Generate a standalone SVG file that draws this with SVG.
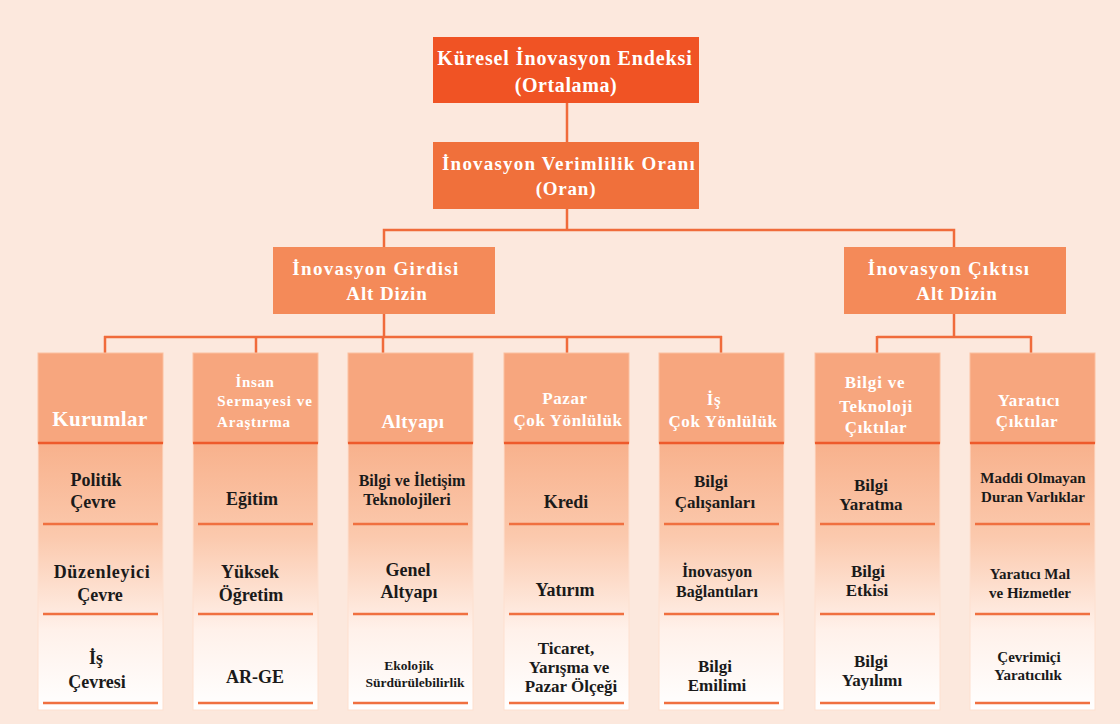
<svg xmlns="http://www.w3.org/2000/svg" width="1120" height="724" viewBox="0 0 1120 724">
  <style>
    .bg { fill: #fce8dd; }
    .t { font-family: 'Liberation Serif', Tinos, 'Times New Roman', 'DejaVu Serif', serif; font-weight: bold; text-anchor: middle; }
    .w { fill: #ffffff; }
    .k { fill: #1a1a1a; }
    .conn { stroke: #f06b3b; stroke-width: 2.5; fill: none; }
    .hdr { fill: #f7a67e; stroke: #fbbf9f; stroke-width: 1; }
    .body { fill: url(#colGrad); stroke: #fde0d0; stroke-width: 1; }
    .hline { stroke: #ee5a2b; stroke-width: 2.5; }
    .sep { stroke: #f07040; stroke-width: 2.5; }
  </style>
  <defs>
    <linearGradient id="colGrad" x1="0" y1="0" x2="0" y2="1">
      <stop offset="0" stop-color="#f8b18c"/>
      <stop offset="0.35" stop-color="#fbc9ad"/>
      <stop offset="0.7" stop-color="#fff1ea"/>
      <stop offset="1" stop-color="#ffffff"/>
    </linearGradient>
  </defs>

  <rect class="bg" x="0" y="0" width="1120" height="724"/>

  <!-- connectors -->
  <g id="connectors">
    <line class="conn" x1="567" y1="103" x2="567" y2="142"/>
    <line class="conn" x1="567" y1="209" x2="567" y2="230"/>
    <polyline class="conn" points="384,247 384,230 954,230 954,247"/>
    <line class="conn" x1="384" y1="314" x2="384" y2="337"/>
    <line class="conn" x1="954" y1="314" x2="954" y2="337"/>
    <line class="conn" x1="104" y1="337" x2="722" y2="337"/>
    <line class="conn" x1="877" y1="337" x2="1031" y2="337"/>
    <line class="conn" x1="105" y1="336" x2="105" y2="353"/>
    <line class="conn" x1="256" y1="336" x2="256" y2="353"/>
    <line class="conn" x1="383" y1="336" x2="383" y2="353"/>
    <line class="conn" x1="567" y1="336" x2="567" y2="353"/>
    <line class="conn" x1="721" y1="336" x2="721" y2="353"/>
    <line class="conn" x1="877" y1="336" x2="877" y2="353"/>
    <line class="conn" x1="1031" y1="336" x2="1031" y2="353"/>
  </g>

  <!-- top levels -->
  <g id="gii">
    <rect x="433" y="37" width="266" height="66" fill="#f05324"/>
    <text class="t w" x="565" y="65" font-size="20" letter-spacing="0.9">Küresel İnovasyon Endeksi</text>
    <text class="t w" x="566" y="92" font-size="20" letter-spacing="0.6">(Ortalama)</text>
  </g>
  <g id="verimlilik">
    <rect x="433" y="142" width="266" height="67" fill="#f0703b"/>
    <text class="t w" x="569" y="170" font-size="19" letter-spacing="1.2">İnovasyon Verimlilik Oranı</text>
    <text class="t w" x="566" y="195" font-size="19" letter-spacing="0.8">(Oran)</text>
  </g>
  <g id="girdi">
    <rect x="273" y="247" width="222" height="67" fill="#f48a59"/>
    <text class="t w" x="376" y="275" font-size="19" letter-spacing="1.3">İnovasyon Girdisi</text>
    <text class="t w" x="387" y="300" font-size="19" letter-spacing="0.9">Alt Dizin</text>
  </g>
  <g id="cikti">
    <rect x="844" y="247" width="222" height="67" fill="#f48a59"/>
    <text class="t w" x="949" y="275" font-size="19" letter-spacing="1.2">İnovasyon Çıktısı</text>
    <text class="t w" x="957" y="300" font-size="19" letter-spacing="0.9">Alt Dizin</text>
  </g>

  <!-- pillar columns -->
  <g id="kurumlar">
    <rect class="body" x="38" y="443" width="125" height="267"/>
    <rect class="hdr" x="38" y="353" width="125" height="90"/>
    <line class="hline" x1="38" y1="443" x2="163" y2="443"/>
    <text class="t w" x="100" y="426" font-size="21" letter-spacing="0.4">Kurumlar</text>
    <line class="sep" x1="43" y1="524" x2="158" y2="524"/>
    <line class="sep" x1="43" y1="614" x2="158" y2="614"/>
    <line class="sep" x1="43" y1="703" x2="158" y2="703"/>
    <text class="t k" x="96" y="486" font-size="18">Politik</text>
    <text class="t k" x="93" y="508" font-size="18">Çevre</text>
    <text class="t k" x="102" y="578" font-size="18" letter-spacing="0.7">Düzenleyici</text>
    <text class="t k" x="100" y="601" font-size="18">Çevre</text>
    <text class="t k" x="96" y="664" font-size="18">İş</text>
    <text class="t k" x="97" y="688" font-size="18">Çevresi</text>
  </g>

  <g id="insan">
    <rect class="body" x="193" y="443" width="125" height="267"/>
    <rect class="hdr" x="193" y="353" width="125" height="90"/>
    <line class="hline" x1="193" y1="443" x2="318" y2="443"/>
    <text class="t w" x="255" y="387" font-size="15" letter-spacing="0.6">İnsan</text>
    <text class="t w" x="265" y="406" font-size="15" letter-spacing="1">Sermayesi ve</text>
    <text class="t w" x="254" y="427" font-size="15" letter-spacing="0.8">Araştırma</text>
    <line class="sep" x1="198" y1="524" x2="313" y2="524"/>
    <line class="sep" x1="198" y1="614" x2="313" y2="614"/>
    <line class="sep" x1="198" y1="703" x2="313" y2="703"/>
    <text class="t k" x="252" y="505" font-size="18">Eğitim</text>
    <text class="t k" x="250" y="578" font-size="18">Yüksek</text>
    <text class="t k" x="251" y="601" font-size="18">Öğretim</text>
    <text class="t k" x="255" y="683" font-size="18">AR-GE</text>
  </g>

  <g id="altyapi">
    <rect class="body" x="348" y="443" width="125" height="267"/>
    <rect class="hdr" x="348" y="353" width="125" height="90"/>
    <line class="hline" x1="348" y1="443" x2="473" y2="443"/>
    <text class="t w" x="413" y="428" font-size="19" letter-spacing="0.4">Altyapı</text>
    <line class="sep" x1="353" y1="524" x2="468" y2="524"/>
    <line class="sep" x1="353" y1="614" x2="468" y2="614"/>
    <line class="sep" x1="353" y1="703" x2="468" y2="703"/>
    <text class="t k" x="412" y="486" font-size="16">Bilgi ve İletişim</text>
    <text class="t k" x="407" y="505" font-size="16">Teknolojileri</text>
    <text class="t k" x="408" y="576" font-size="18">Genel</text>
    <text class="t k" x="409" y="598" font-size="18">Altyapı</text>
    <text class="t k" x="409" y="670" font-size="13.5">Ekolojik</text>
    <text class="t k" x="415" y="687" font-size="13.5">Sürdürülebilirlik</text>
  </g>

  <g id="pazar">
    <rect class="body" x="504" y="443" width="125" height="267"/>
    <rect class="hdr" x="504" y="353" width="125" height="90"/>
    <line class="hline" x1="504" y1="443" x2="629" y2="443"/>
    <text class="t w" x="565" y="404" font-size="17" letter-spacing="0.6">Pazar</text>
    <text class="t w" x="568" y="426" font-size="17" letter-spacing="0.6">Çok Yönlülük</text>
    <line class="sep" x1="509" y1="524" x2="624" y2="524"/>
    <line class="sep" x1="509" y1="614" x2="624" y2="614"/>
    <line class="sep" x1="509" y1="703" x2="624" y2="703"/>
    <text class="t k" x="566" y="508" font-size="18">Kredi</text>
    <text class="t k" x="565" y="596" font-size="18">Yatırım</text>
    <text class="t k" x="566" y="654" font-size="17">Ticaret,</text>
    <text class="t k" x="569" y="673" font-size="17">Yarışma ve</text>
    <text class="t k" x="571" y="692" font-size="17">Pazar Ölçeği</text>
  </g>

  <g id="is">
    <rect class="body" x="659" y="443" width="125" height="267"/>
    <rect class="hdr" x="659" y="353" width="125" height="90"/>
    <line class="hline" x1="659" y1="443" x2="784" y2="443"/>
    <text class="t w" x="714" y="405" font-size="17" letter-spacing="0.6">İş</text>
    <text class="t w" x="723" y="427" font-size="17" letter-spacing="0.6">Çok Yönlülük</text>
    <line class="sep" x1="664" y1="524" x2="779" y2="524"/>
    <line class="sep" x1="664" y1="614" x2="779" y2="614"/>
    <line class="sep" x1="664" y1="703" x2="779" y2="703"/>
    <text class="t k" x="711" y="487" font-size="17">Bilgi</text>
    <text class="t k" x="715" y="508" font-size="17">Çalışanları</text>
    <text class="t k" x="717" y="577" font-size="16">İnovasyon</text>
    <text class="t k" x="717" y="597" font-size="16">Bağlantıları</text>
    <text class="t k" x="715" y="672" font-size="17">Bilgi</text>
    <text class="t k" x="717" y="691" font-size="17">Emilimi</text>
  </g>

  <g id="bilgi-teknoloji">
    <rect class="body" x="815" y="443" width="125" height="267"/>
    <rect class="hdr" x="815" y="353" width="125" height="90"/>
    <line class="hline" x1="815" y1="443" x2="940" y2="443"/>
    <text class="t w" x="875" y="388" font-size="17" letter-spacing="0.8">Bilgi ve</text>
    <text class="t w" x="876" y="412" font-size="17" letter-spacing="0.6">Teknoloji</text>
    <text class="t w" x="876" y="433" font-size="17" letter-spacing="0.6">Çıktılar</text>
    <line class="sep" x1="820" y1="524" x2="935" y2="524"/>
    <line class="sep" x1="820" y1="614" x2="935" y2="614"/>
    <line class="sep" x1="820" y1="703" x2="935" y2="703"/>
    <text class="t k" x="871" y="491" font-size="17">Bilgi</text>
    <text class="t k" x="871" y="510" font-size="17">Yaratma</text>
    <text class="t k" x="868" y="577" font-size="17">Bilgi</text>
    <text class="t k" x="867" y="596" font-size="17">Etkisi</text>
    <text class="t k" x="871" y="667" font-size="17">Bilgi</text>
    <text class="t k" x="872" y="686" font-size="17">Yayılımı</text>
  </g>

  <g id="yaratici">
    <rect class="body" x="970" y="443" width="125" height="267"/>
    <rect class="hdr" x="970" y="353" width="125" height="90"/>
    <line class="hline" x1="970" y1="443" x2="1095" y2="443"/>
    <text class="t w" x="1029" y="406" font-size="17" letter-spacing="0.6">Yaratıcı</text>
    <text class="t w" x="1027" y="427" font-size="17" letter-spacing="0.6">Çıktılar</text>
    <line class="sep" x1="975" y1="524" x2="1090" y2="524"/>
    <line class="sep" x1="975" y1="614" x2="1090" y2="614"/>
    <line class="sep" x1="975" y1="703" x2="1090" y2="703"/>
    <text class="t k" x="1033" y="483" font-size="15">Maddi Olmayan</text>
    <text class="t k" x="1033" y="502" font-size="15">Duran Varlıklar</text>
    <text class="t k" x="1030" y="579" font-size="15">Yaratıcı Mal</text>
    <text class="t k" x="1030" y="598" font-size="15">ve Hizmetler</text>
    <text class="t k" x="1029" y="662" font-size="15">Çevrimiçi</text>
    <text class="t k" x="1028" y="680" font-size="15">Yaratıcılık</text>
  </g>
</svg>
